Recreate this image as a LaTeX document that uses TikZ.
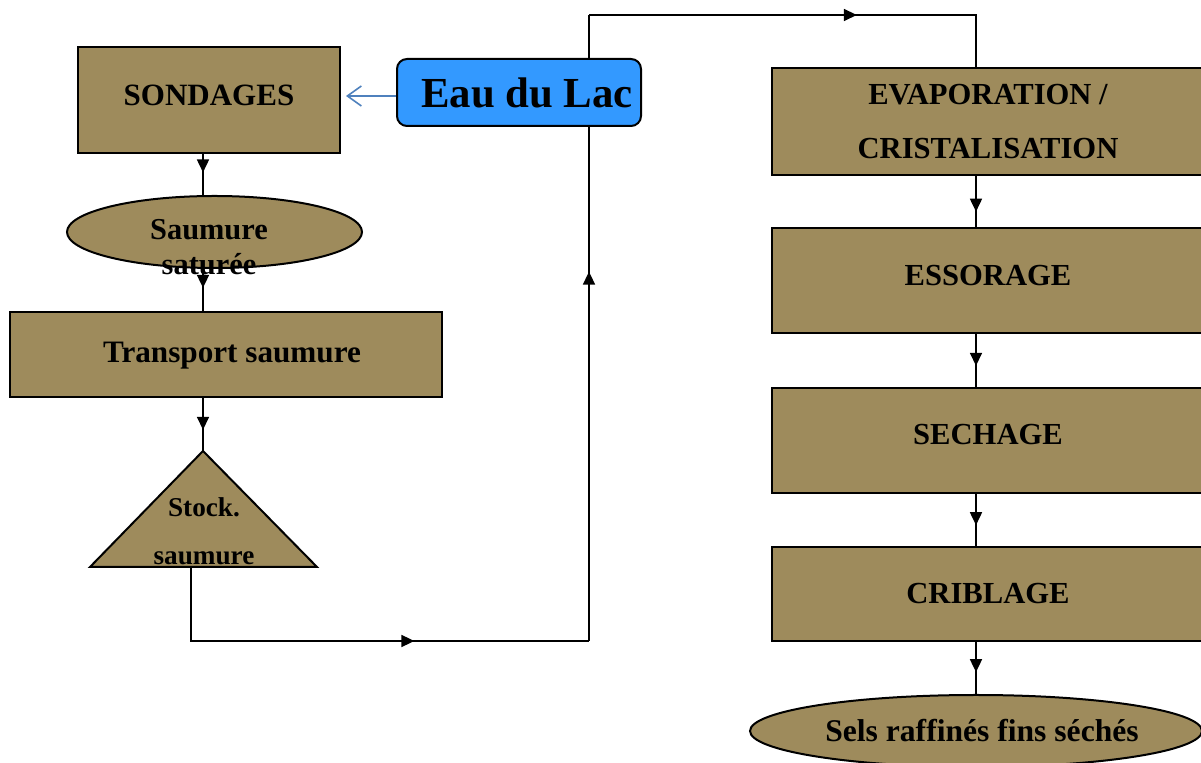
\documentclass[tikz,border=0pt]{standalone}
\usepackage{fontspec}
\setmainfont{Liberation Serif}
\usetikzlibrary{arrows.meta,shapes.geometric,decorations.markings}

\definecolor{saltbox}{RGB}{158,139,92}
\definecolor{lakefill}{RGB}{51,153,255}
\definecolor{lakeline}{RGB}{79,129,189}

\tikzset{
  procbox/.style={draw=black, fill=saltbox, line width=1pt, minimum width=216pt, inner sep=0pt, align=center,
    font=\bfseries\fontsize{15.3}{27}\selectfont},
  brinebox/.style={draw=black, fill=saltbox, line width=1pt, ellipse, inner sep=0pt},
  flow/.style={line width=0.85pt, postaction={decorate},
    decoration={markings, mark=at position #1 with {\arrow{Triangle[length=6.5pt,width=6pt]}}}},
  flow/.default=0.6
}

\begin{document}
\begin{tikzpicture}[x=0.5pt, y=-0.5pt]
	\useasboundingbox (0,0) rectangle (1201,763);
	\clip (0,0) rectangle (1201,763);
	% left column
	\node[procbox, minimum width=131pt, minimum height=53pt, text depth=5pt, font=\bfseries\fontsize{15.5}{18}\selectfont] (sond) at (209,100) {SONDAGES};
	\node[brinebox, minimum width=147.5pt, minimum height=36pt] (satur) at (214.5,232) {};
	\node[align=center, inner sep=0pt, font=\bfseries\fontsize{15.2}{17.5}\selectfont] (saturtxt) at (209,247) {Saumure\\saturée};
	\node[procbox, minimum height=42.5pt, text depth=2pt, font=\bfseries\fontsize{15.6}{27}\selectfont] (trans) at (226,354.5) {\hspace{6pt}Transport saumure};
	\coordinate (stockapex) at (203,451);
	\coordinate (stockleft) at (90,567);
	\coordinate (stockright) at (317,567);
	\coordinate (stockfoot) at (191,567);
	\draw[fill=saltbox, line width=1pt] (stockapex) -- (stockright) -- (stockleft) -- cycle;
	\node[align=center, inner sep=0pt, font=\bfseries\fontsize{13.6}{24}\selectfont] (stocktxt) at (204,531) {Stock.\\saumure};
	% right column
	\node[procbox, minimum height=53.5pt] (evap) at (988,121.5) {EVAPORATION /\\CRISTALISATION};
	\node[procbox, minimum height=52.5pt, text depth=5pt] (esso) at (988,280.5) {ESSORAGE};
	\node[procbox, minimum height=52.5pt, text depth=6pt] (sech) at (988,440.5) {SECHAGE};
	\node[procbox, minimum height=47pt] (crib) at (988,594) {CRIBLAGE};
	\node[brinebox, minimum width=226pt, minimum height=36pt] (sels) at (976,731) {};
	\node[inner sep=0pt, font=\bfseries\fontsize{15.8}{18}\selectfont] (selstxt) at (982,731) {Sels raffinés fins séchés};
	\coordinate (lcol) at (203,0);
	\coordinate (rcol) at (976,0);
	\coordinate (lowturn) at (589,641);
	\coordinate (highturn) at (589,15);
	% connectors
	\draw[flow=0.45] (sond.south -| lcol) -- (satur.north -| lcol);
	\draw[flow=0.45] (satur.south -| lcol) -- (trans.north -| lcol);
	\draw[flow=0.6] (trans.south -| lcol) -- (stockapex);
	\draw[flow=0.63] (stockfoot) |- (lowturn);
	\draw[flow=0.59] (lowturn) -- (highturn);
	\draw[flow=0.61] (highturn) -| (evap.north -| rcol);
	\draw[flow=0.7] (evap.south -| rcol) -- (esso.north -| rcol);
	\draw[flow=0.6] (esso.south -| rcol) -- (sech.north -| rcol);
	\draw[flow=0.6] (sech.south -| rcol) -- (crib.north -| rcol);
	\draw[flow=0.58] (crib.south -| rcol) -- (sels.north -| rcol);
	% water input
	\node[draw=black, fill=lakefill, line width=1pt, rounded corners=5pt, minimum width=122pt, minimum height=33.5pt,
	  font=\bfseries\fontsize{21.4}{24}\selectfont] (lake) at (519,92.5) {\hspace{8pt}Eau du Lac};
	\draw[lakeline, line width=0.8pt, -{Straight Barb[length=7pt,width=10pt]}] (lake.west |- 0,96) -- ([xshift=2.5pt]sond.east |- 0,96);
\end{tikzpicture}
\end{document}
